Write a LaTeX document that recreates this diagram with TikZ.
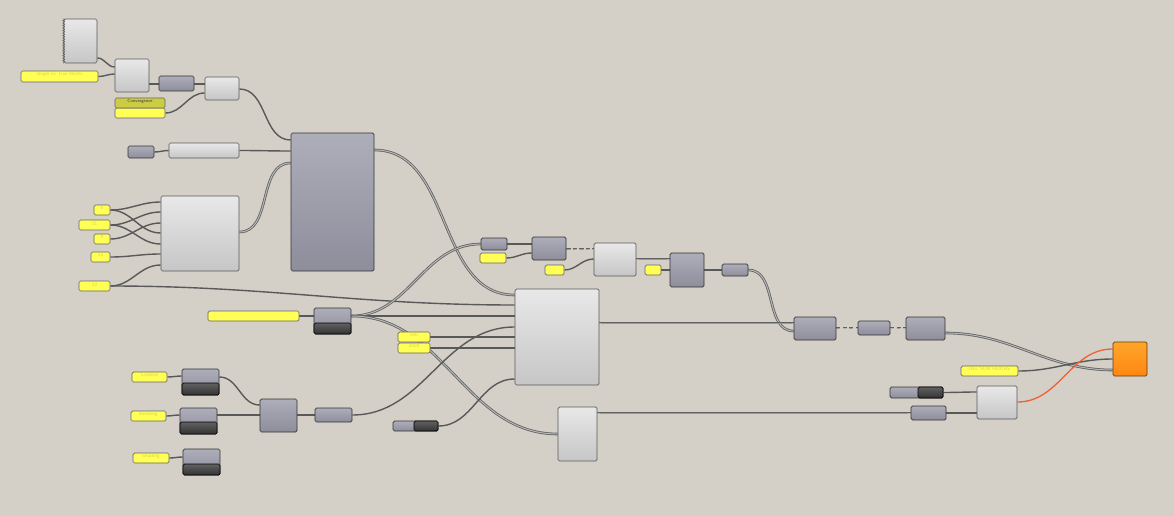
\documentclass[tikz,border=0pt]{standalone}
\usepackage{xcolor}
\usetikzlibrary{fit,backgrounds,decorations.pathmorphing}
\definecolor{canvas}{RGB}{212,208,200}
\definecolor{cmptop}{RGB}{174,173,186}
\definecolor{cmpbot}{RGB}{142,141,155}
\definecolor{lgttop}{RGB}{232,232,232}
\definecolor{lgtbot}{RGB}{198,198,198}
\definecolor{pyellow}{RGB}{255,255,85}
\definecolor{pink}{RGB}{214,210,80}
\definecolor{phead}{RGB}{204,204,68}
\definecolor{hottop}{RGB}{255,166,42}
\definecolor{hotbot}{RGB}{255,134,18}
\definecolor{hotwire}{RGB}{240,96,50}
\tikzset{
	comp/.style={draw=black!80, line width=0.7pt, rounded corners=1.5pt, inner sep=0pt,
			top color=cmptop, bottom color=cmpbot},
	light/.style={comp, draw=black!65, top color=lgttop, bottom color=lgtbot},
	panel/.style={comp, draw=black!60, top color=pyellow, bottom color=pyellow,
			text=pink, font=\sffamily\fontsize{5}{6}\selectfont},
	darkpart/.style={comp, draw=black, top color=black!62, bottom color=black!80},
	hot/.style={comp, draw=black!40!hotbot!70!black, top color=hottop, bottom color=hotbot},
	wire/.style={draw=black!65, line width=1.4pt},
	listwire/.style={draw=black!62, line width=0.8pt, double=black!28, double distance=1pt},
	dashwire/.style={listwire, dash pattern=on 4pt off 2.5pt},
}

\begin{document}
\begin{tikzpicture}[x=1pt,y=-1pt]
	\useasboundingbox (0,0) rectangle (1174,516);

	% top left chain
	\node[light, fit={(64,19) (97,63)}] (scr) {};
	\draw[black!70, decorate, decoration={zigzag, amplitude=1pt, segment length=2.5pt}]
		(scr.north west) -- (scr.south west);
	\node[panel, fit={(21,71) (98,82)}] (north) {Angle to True North};
	\node[light, fit={(115,59) (149,92)}] (ca) {};
	\node[comp, fit={(159,76) (194,91)}] (gb) {};
	\node[light, fit={(205,77) (239,100)}] (cb) {};
	\node[panel, fit={(115,108) (165,118)}] (conv) {};
	\node[panel, top color=phead, bottom color=phead, text=black!80,
		font=\sffamily\fontsize{4.5}{5}\selectfont, fit={(115,98) (165,108)}] (convh) {Convergence};
	\node[comp, fit={(128,146) (154,158)}] (gs) {};
	\node[light, fit={(169,143) (239,158)}] (long) {};
	\node[comp, fit={(291,133) (374,271)}] (big) {};

	% number panels
	\node[light, fit={(161,196) (239,271)}] (cc) {};
	\node[panel, fit={(94,205) (110,215)}] (p6) {6};
	\node[panel, fit={(79,220) (110,230)}] (p21) {21};
	\node[panel, fit={(94,234) (110,244)}] (p9) {9};
	\node[panel, fit={(91,252) (110,262)}] (p15) {15};
	\node[panel, fit={(79,281) (110,291)}] (p12) {12};

	% middle
	\node[panel, fit={(208,311) (299,321)}] (sea) {};
	\node[comp, fit={(314,308) (351,334)}] (cs) {};
	\node[darkpart, fit={(314,323) (351,334)}] (csd) {};
	\node[panel, fit={(398,332) (430,342)}] (p500) {500};
	\node[panel, fit={(398,343) (430,353)}] (p2020) {2020};
	\node[light, fit={(515,289) (599,385)}] (dd) {};
	\node[comp, fit={(393,421) (438,431)}] (sl) {};
	\node[darkpart, fit={(414,421) (438,431)}] (sld) {};
	\node[light, fit={(558,407) (597,461)}] (cg) {};

	% upper chain
	\node[comp, fit={(481,238) (507,250)}] (ga) {};
	\node[panel, fit={(480,253) (506,263)}] (pa) {};
	\node[comp, fit={(532,237) (566,260)}] (ck) {};
	\node[panel, fit={(545,265) (564,275)}] (pb) {};
	\node[light, fit={(594,243) (636,276)}] (ce) {};
	\node[panel, fit={(645,265) (661,275)}] (pc) {};
	\node[comp, fit={(670,253) (704,287)}] (ch) {};
	\node[comp, fit={(722,264) (748,276)}] (gn) {};

	% right side
	\node[comp, fit={(794,317) (836,340)}] (cm) {};
	\node[comp, fit={(858,321) (890,335)}] (gd) {};
	\node[comp, fit={(906,317) (945,340)}] (cn) {};
	\node[hot, fit={(1113,342) (1147,376)}] (out) {};
	\node[panel, fit={(961,366) (1018,376)}] (sun) {ALL SUN HOURS};
	\node[comp, fit={(890,387) (943,398)}] (sr) {};
	\node[darkpart, fit={(918,387) (943,398)}] (srd) {};
	\node[comp, fit={(911,406) (946,420)}] (gq) {};
	\node[light, fit={(977,386) (1017,419)}] (cf) {};

	% bottom left
	\node[panel, fit={(132,372) (167,382)}] (ctx) {Context};
	\node[comp, fit={(182,369) (219,395)}] (cx) {};
	\node[darkpart, fit={(182,383) (219,395)}] (cxd) {};
	\node[panel, fit={(131,411) (166,421)}] (bld) {Building};
	\node[comp, fit={(180,408) (217,434)}] (cy) {};
	\node[darkpart, fit={(180,422) (217,434)}] (cyd) {};
	\node[panel, fit={(133,453) (169,463)}] (shd) {Shading};
	\node[comp, fit={(183,449) (220,475)}] (cz) {};
	\node[darkpart, fit={(183,464) (220,475)}] (czd) {};
	\node[comp, fit={(260,399) (297,432)}] (cj) {};
	\node[comp, fit={(315,408) (352,422)}] (gm) {};

	\begin{scope}[on background layer, every to/.style={out=0,in=180}]
		\fill[canvas] (0,0) rectangle (1174,516);
		\draw[wire] (scr.east|-0,58) to (ca.west|-0,67);
		\draw[wire] (north.east) to (ca.west|-0,74);
		\draw[wire] (ca.east|-0,84) to (gb.west|-0,84);
		\draw[wire] (gb.east|-0,84) to (cb.west|-0,84);
		\draw[wire] (conv.east) to (cb.west|-0,93);
		\draw[wire] (cb.east|-0,89) to (big.west|-0,140);
		\draw[wire] (gs.east) to (long.west);
		\draw[wire] (long.east) to (big.west|-0,151);
		\draw[listwire] (cc.east|-0,232) to (big.west|-0,163);
		\draw[wire] (p6.east) to (cc.west|-0,202);
		\draw[wire] (p6.east) to (cc.west|-0,233);
		\draw[wire] (p21.east) to (cc.west|-0,212);
		\draw[wire] (p21.east) to (cc.west|-0,244);
		\draw[wire] (p9.east) to (cc.west|-0,223);
		\draw[wire] (p15.east) to (cc.west|-0,254);
		\draw[wire] (p12.east) to (cc.west|-0,265);
		\draw[wire] (p12.east) to (dd.west|-0,305);
		\draw[listwire] (big.east|-0,150) to (dd.west|-0,295);
		\draw[wire] (sea.east) to (cs.west|-0,316);
		\draw[listwire] (cs.east|-0,316) to (ga.west|-0,244);
		\draw[wire] (cs.east|-0,316) to (dd.west|-0,316);
		\draw[listwire] (cs.east|-0,316) to (cg.west|-0,434);
		\draw[wire] (gm.east|-0,415) to (dd.west|-0,327);
		\draw[wire] (p500.east) to (dd.west|-0,337);
		\draw[wire] (p2020.east) to (dd.west|-0,348);
		\draw[wire] (sl.east) to (dd.west|-0,379);
		\draw[wire] (ga.east|-0,244) to (ck.west|-0,244);
		\draw[wire] (pa.east) to (ck.west|-0,253);
		\draw[dashwire] (ck.east|-0,249) to (ce.west|-0,249);
		\draw[wire] (pb.east) to (ce.west|-0,259);
		\draw[listwire] (ce.east|-0,259) to (ch.west|-0,259);
		\draw[wire] (pc.east) to (ch.west|-0,270);
		\draw[wire] (ch.east|-0,270) to (gn.west|-0,270);
		\draw[listwire] (gn.east|-0,270) to (cm.west|-0,331);
		\draw[listwire] (dd.east|-0,323) to (cm.west|-0,323);
		\draw[dashwire] (cm.east|-0,328) to (gd.west|-0,328);
		\draw[dashwire] (gd.east|-0,328) to (cn.west|-0,328);
		\draw[listwire] (cn.east|-0,333) to (out.west|-0,370);
		\draw[wire] (sun.east) to (out.west|-0,359);
		\draw[hotwire, line width=1.3pt] (cf.east|-0,402) to (out.west|-0,349);
		\draw[wire] (sr.east) to (cf.west|-0,392);
		\draw[wire] (gq.east|-0,413) to (cf.west|-0,413);
		\draw[listwire] (cg.east|-0,413) to (gq.west|-0,413);
		\draw[wire] (ctx.east) to (cx.west|-0,376);
		\draw[wire] (bld.east) to (cy.west|-0,415);
		\draw[wire] (shd.east) to (cz.west|-0,457);
		\draw[wire] (cx.east|-0,377) to (cj.west|-0,405);
		\draw[wire] (cy.east|-0,415) to (cj.west|-0,415);
		\draw[wire] (cj.east|-0,415) to (gm.west|-0,415);
	\end{scope}
\end{tikzpicture}
\end{document}
